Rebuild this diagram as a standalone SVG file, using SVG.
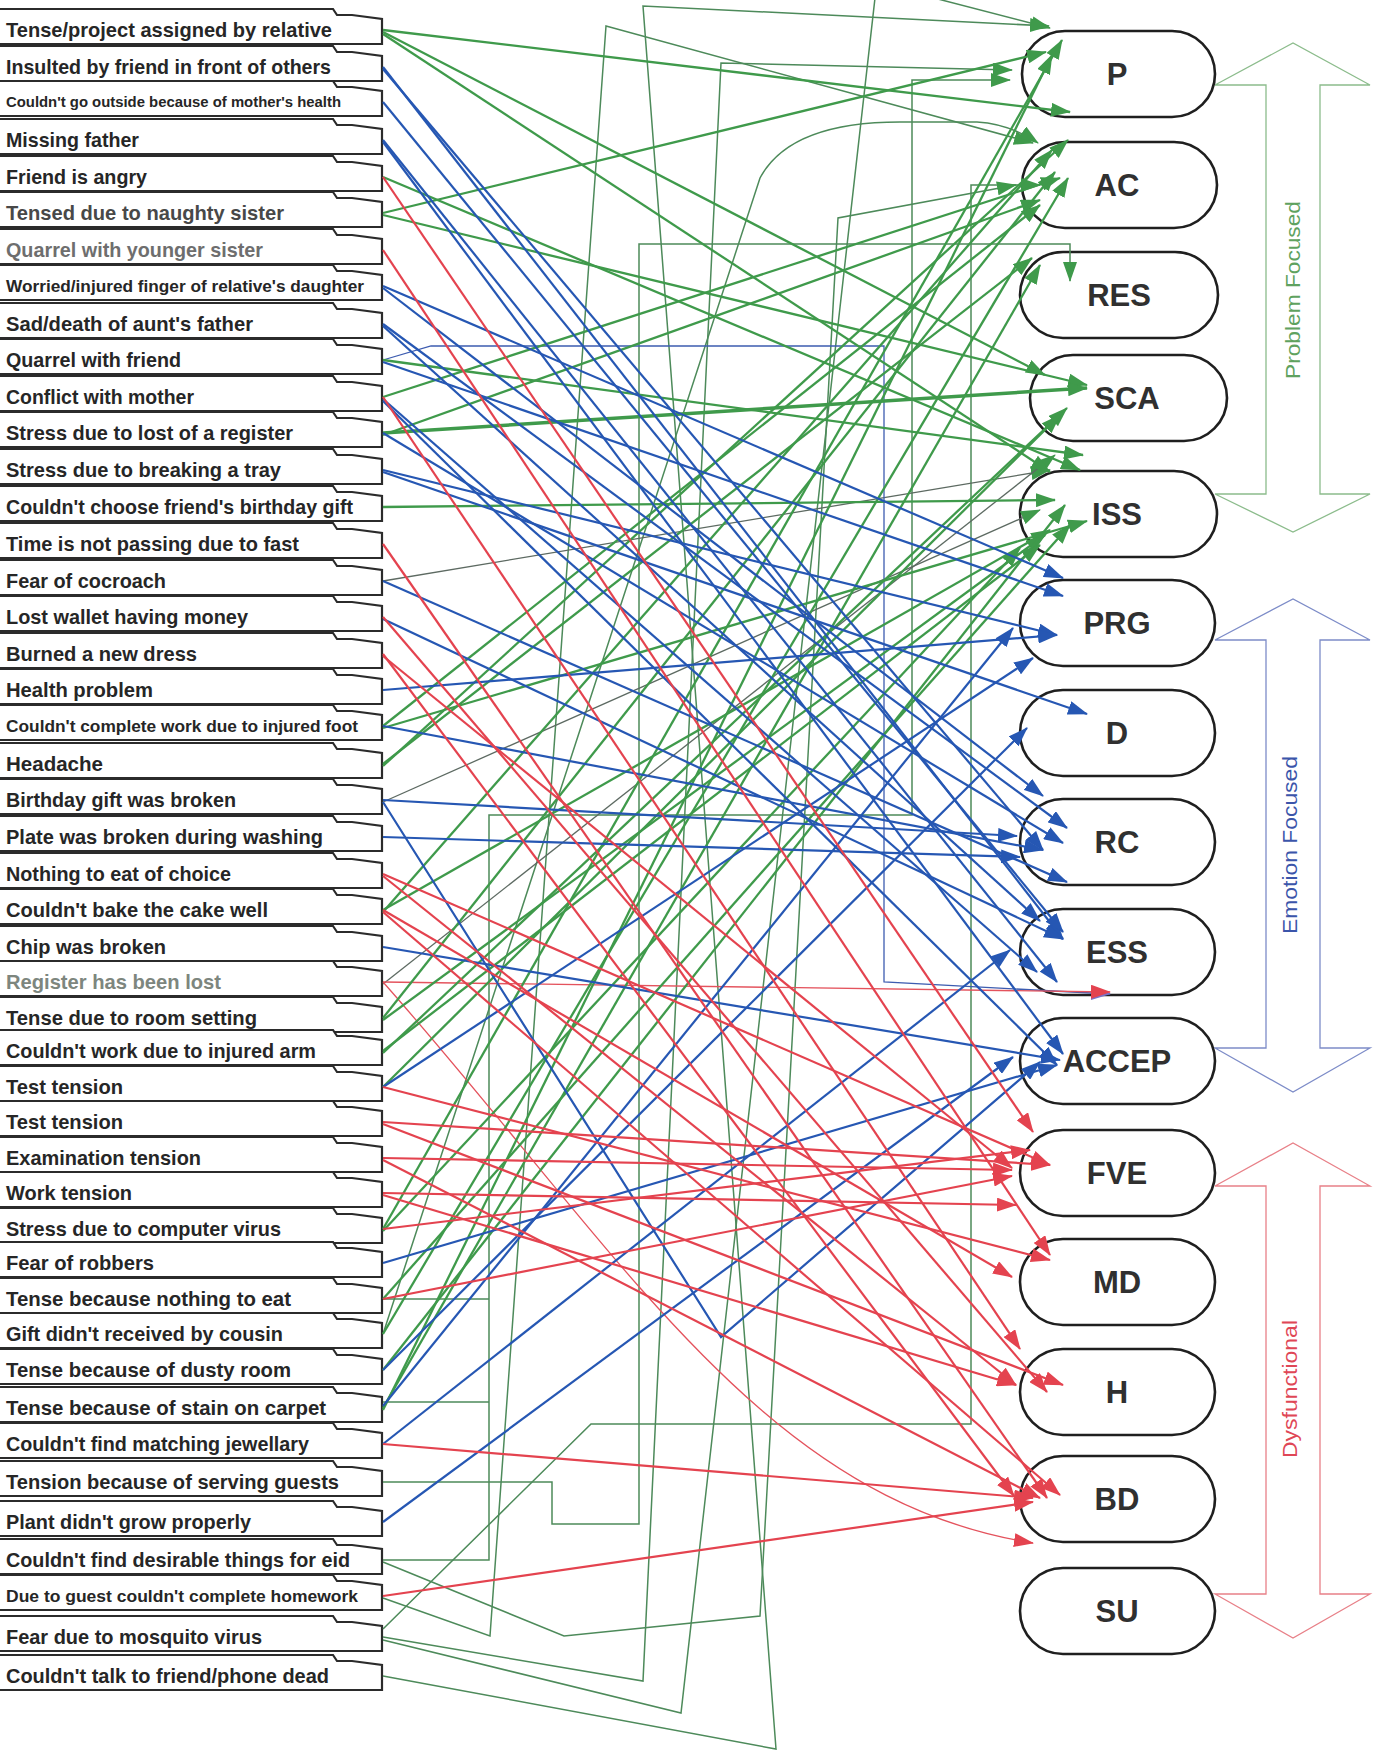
<svg xmlns="http://www.w3.org/2000/svg" width="1383" height="1751" viewBox="0 0 1383 1751">
<defs>
<style>
.box{fill:#fff;stroke:#2b2b2b;stroke-width:2.2}
.lbl{font-family:"Liberation Sans",Arial,sans-serif;font-weight:bold;font-size:21px;fill:#262626}
.sm{font-size:15px}
.md{font-size:17px}
.node rect{fill:#fff;stroke:#1f1f1f;stroke-width:2.6}
.node text{font-family:"Liberation Sans",Arial,sans-serif;font-weight:bold;font-size:31px;fill:#303030;text-anchor:middle}
.band{fill:#fff;stroke-width:1.3}
.bandtxt{font-family:"Liberation Sans",Arial,sans-serif;font-size:20px;text-anchor:middle}
.cg{fill:none;stroke:#3f9a4b;stroke-width:2.3;marker-end:url(#ah-g)}
.ct{fill:none;stroke:#4d8a5a;stroke-width:1.5;marker-end:url(#ah-g)}
.cn{fill:none;stroke:#4d8a5a;stroke-width:1.5}
.cy{fill:none;stroke:#5d6a62;stroke-width:1.3;marker-end:url(#ah-g)}
.cb{fill:none;stroke:#2657b3;stroke-width:2.2;marker-end:url(#ah-b)}
.cbt{fill:none;stroke:#3d5cb0;stroke-width:1.3;marker-end:url(#ah-p)}
.cr{fill:none;stroke:#e4434f;stroke-width:2.2;marker-end:url(#ah-r)}
.crt{fill:none;stroke:#e4535d;stroke-width:1.3;marker-end:url(#ah-r)}
</style>
<marker id="ah-g" viewBox="0 0 20 14" refX="19" refY="7" markerWidth="20" markerHeight="14" markerUnits="userSpaceOnUse" orient="auto"><path d="M0,0L20,7L0,14Z" fill="#3f9a4b"/></marker>
<marker id="ah-b" viewBox="0 0 20 14" refX="19" refY="7" markerWidth="20" markerHeight="14" markerUnits="userSpaceOnUse" orient="auto"><path d="M0,0L20,7L0,14Z" fill="#2657b3"/></marker>
<marker id="ah-r" viewBox="0 0 20 14" refX="19" refY="7" markerWidth="20" markerHeight="14" markerUnits="userSpaceOnUse" orient="auto"><path d="M0,0L20,7L0,14Z" fill="#e4434f"/></marker>
<marker id="ah-p" viewBox="0 0 20 14" refX="19" refY="7" markerWidth="20" markerHeight="14" markerUnits="userSpaceOnUse" orient="auto"><path d="M0,0L20,7L0,14Z" fill="#7a72c8"/></marker>
</defs>
<rect width="1383" height="1751" fill="#fff"/>

<!-- stressor labels -->
<g id="stressors">
<g id="s1"><path class="box" d="M0,9H333l4,6h15l30,4V44H0"/><text class="lbl" x="6" y="37" textLength="326" lengthAdjust="spacingAndGlyphs">Tense/project assigned by relative</text></g>
<g id="s2"><path class="box" d="M0,46H333l4,6h15l30,4V81H0"/><text class="lbl" x="6" y="74" textLength="325" lengthAdjust="spacingAndGlyphs">Insulted by friend in front of others</text></g>
<g id="s3"><path class="box" d="M0,81H333l4,6h15l30,4V116H0"/><text class="lbl sm" x="6" y="107" textLength="335" lengthAdjust="spacingAndGlyphs">Couldn't go outside because of mother's health</text></g>
<g id="s4"><path class="box" d="M0,119H333l4,6h15l30,4V154H0"/><text class="lbl" x="6" y="147" textLength="133" lengthAdjust="spacingAndGlyphs">Missing father</text></g>
<g id="s5"><path class="box" d="M0,156H333l4,6h15l30,4V191H0"/><text class="lbl" x="6" y="184" textLength="141" lengthAdjust="spacingAndGlyphs">Friend is angry</text></g>
<g id="s6"><path class="box" d="M0,192H333l4,6h15l30,4V227H0"/><text class="lbl" x="6" y="220" textLength="278" lengthAdjust="spacingAndGlyphs" style="fill:#484848">Tensed due to naughty sister</text></g>
<g id="s7"><path class="box" d="M0,229H333l4,6h15l30,4V264H0"/><text class="lbl" x="6" y="257" textLength="257" lengthAdjust="spacingAndGlyphs" style="fill:#6e6e6e">Quarrel with younger sister</text></g>
<g id="s8"><path class="box" d="M0,265H333l4,6h15l30,4V300H0"/><text class="lbl md" x="6" y="292" textLength="358" lengthAdjust="spacingAndGlyphs">Worried/injured finger of relative's daughter</text></g>
<g id="s9"><path class="box" d="M0,303H333l4,6h15l30,4V338H0"/><text class="lbl" x="6" y="331" textLength="247" lengthAdjust="spacingAndGlyphs">Sad/death of aunt's father</text></g>
<g id="s10"><path class="box" d="M0,339H333l4,6h15l30,4V374H0"/><text class="lbl" x="6" y="367" textLength="175" lengthAdjust="spacingAndGlyphs">Quarrel with friend</text></g>
<g id="s11"><path class="box" d="M0,376H333l4,6h15l30,4V411H0"/><text class="lbl" x="6" y="404" textLength="188" lengthAdjust="spacingAndGlyphs">Conflict with mother</text></g>
<g id="s12"><path class="box" d="M0,412H333l4,6h15l30,4V447H0"/><text class="lbl" x="6" y="440" textLength="287" lengthAdjust="spacingAndGlyphs">Stress due to lost of a register</text></g>
<g id="s13"><path class="box" d="M0,449H333l4,6h15l30,4V484H0"/><text class="lbl" x="6" y="477" textLength="275" lengthAdjust="spacingAndGlyphs">Stress due to breaking a tray</text></g>
<g id="s14"><path class="box" d="M0,486H333l4,6h15l30,4V521H0"/><text class="lbl" x="6" y="514" textLength="347" lengthAdjust="spacingAndGlyphs">Couldn't choose friend's birthday gift</text></g>
<g id="s15"><path class="box" d="M0,523H333l4,6h15l30,4V558H0"/><text class="lbl" x="6" y="551" textLength="293" lengthAdjust="spacingAndGlyphs">Time is not passing due to fast</text></g>
<g id="s16"><path class="box" d="M0,560H333l4,6h15l30,4V595H0"/><text class="lbl" x="6" y="588" textLength="160" lengthAdjust="spacingAndGlyphs">Fear of cocroach</text></g>
<g id="s17"><path class="box" d="M0,596H333l4,6h15l30,4V631H0"/><text class="lbl" x="6" y="624" textLength="242" lengthAdjust="spacingAndGlyphs">Lost wallet having money</text></g>
<g id="s18"><path class="box" d="M0,633H333l4,6h15l30,4V668H0"/><text class="lbl" x="6" y="661" textLength="191" lengthAdjust="spacingAndGlyphs">Burned a new dress</text></g>
<g id="s19"><path class="box" d="M0,669H333l4,6h15l30,4V704H0"/><text class="lbl" x="6" y="697" textLength="147" lengthAdjust="spacingAndGlyphs">Health problem</text></g>
<g id="s20"><path class="box" d="M0,705H333l4,6h15l30,4V740H0"/><text class="lbl md" x="6" y="732" textLength="352" lengthAdjust="spacingAndGlyphs">Couldn't complete work due to injured foot</text></g>
<g id="s21"><path class="box" d="M0,743H333l4,6h15l30,4V778H0"/><text class="lbl" x="6" y="771" textLength="97" lengthAdjust="spacingAndGlyphs">Headache</text></g>
<g id="s22"><path class="box" d="M0,779H333l4,6h15l30,4V814H0"/><text class="lbl" x="6" y="807" textLength="230" lengthAdjust="spacingAndGlyphs">Birthday gift was broken</text></g>
<g id="s23"><path class="box" d="M0,816H333l4,6h15l30,4V851H0"/><text class="lbl" x="6" y="844" textLength="317" lengthAdjust="spacingAndGlyphs">Plate was broken during washing</text></g>
<g id="s24"><path class="box" d="M0,853H333l4,6h15l30,4V888H0"/><text class="lbl" x="6" y="881" textLength="225" lengthAdjust="spacingAndGlyphs">Nothing to eat of choice</text></g>
<g id="s25"><path class="box" d="M0,889H333l4,6h15l30,4V924H0"/><text class="lbl" x="6" y="917" textLength="262" lengthAdjust="spacingAndGlyphs">Couldn't bake the cake well</text></g>
<g id="s26"><path class="box" d="M0,926H333l4,6h15l30,4V961H0"/><text class="lbl" x="6" y="954" textLength="160" lengthAdjust="spacingAndGlyphs">Chip was broken</text></g>
<g id="s27"><path class="box" d="M0,961H333l4,6h15l30,4V996H0"/><text class="lbl" x="6" y="989" textLength="215" lengthAdjust="spacingAndGlyphs" style="fill:#7d867e">Register has been lost</text></g>
<g id="s28"><path class="box" d="M0,997H333l4,6h15l30,4V1032H0"/><text class="lbl" x="6" y="1025" textLength="251" lengthAdjust="spacingAndGlyphs">Tense due to room setting</text></g>
<g id="s29"><path class="box" d="M0,1030H333l4,6h15l30,4V1065H0"/><text class="lbl" x="6" y="1058" textLength="310" lengthAdjust="spacingAndGlyphs">Couldn't work due to injured arm</text></g>
<g id="s30"><path class="box" d="M0,1066H333l4,6h15l30,4V1101H0"/><text class="lbl" x="6" y="1094" textLength="117" lengthAdjust="spacingAndGlyphs">Test tension</text></g>
<g id="s31"><path class="box" d="M0,1101H333l4,6h15l30,4V1136H0"/><text class="lbl" x="6" y="1129" textLength="117" lengthAdjust="spacingAndGlyphs">Test tension</text></g>
<g id="s32"><path class="box" d="M0,1137H333l4,6h15l30,4V1172H0"/><text class="lbl" x="6" y="1165" textLength="195" lengthAdjust="spacingAndGlyphs">Examination tension</text></g>
<g id="s33"><path class="box" d="M0,1172H333l4,6h15l30,4V1207H0"/><text class="lbl" x="6" y="1200" textLength="126" lengthAdjust="spacingAndGlyphs">Work tension</text></g>
<g id="s34"><path class="box" d="M0,1208H333l4,6h15l30,4V1243H0"/><text class="lbl" x="6" y="1236" textLength="275" lengthAdjust="spacingAndGlyphs">Stress due to computer virus</text></g>
<g id="s35"><path class="box" d="M0,1242H333l4,6h15l30,4V1277H0"/><text class="lbl" x="6" y="1270" textLength="148" lengthAdjust="spacingAndGlyphs">Fear of robbers</text></g>
<g id="s36"><path class="box" d="M0,1278H333l4,6h15l30,4V1313H0"/><text class="lbl" x="6" y="1306" textLength="285" lengthAdjust="spacingAndGlyphs">Tense because nothing to eat</text></g>
<g id="s37"><path class="box" d="M0,1313H333l4,6h15l30,4V1348H0"/><text class="lbl" x="6" y="1341" textLength="277" lengthAdjust="spacingAndGlyphs">Gift didn't received by cousin</text></g>
<g id="s38"><path class="box" d="M0,1349H333l4,6h15l30,4V1384H0"/><text class="lbl" x="6" y="1377" textLength="285" lengthAdjust="spacingAndGlyphs">Tense because of dusty room</text></g>
<g id="s39"><path class="box" d="M0,1387H333l4,6h15l30,4V1422H0"/><text class="lbl" x="6" y="1415" textLength="320" lengthAdjust="spacingAndGlyphs">Tense because of stain on carpet</text></g>
<g id="s40"><path class="box" d="M0,1423H333l4,6h15l30,4V1458H0"/><text class="lbl" x="6" y="1451" textLength="303" lengthAdjust="spacingAndGlyphs">Couldn't find matching jewellary</text></g>
<g id="s41"><path class="box" d="M0,1461H333l4,6h15l30,4V1496H0"/><text class="lbl" x="6" y="1489" textLength="333" lengthAdjust="spacingAndGlyphs">Tension because of serving guests</text></g>
<g id="s42"><path class="box" d="M0,1501H333l4,6h15l30,4V1536H0"/><text class="lbl" x="6" y="1529" textLength="245" lengthAdjust="spacingAndGlyphs">Plant didn't grow properly</text></g>
<g id="s43"><path class="box" d="M0,1539H333l4,6h15l30,4V1574H0"/><text class="lbl" x="6" y="1567" textLength="344" lengthAdjust="spacingAndGlyphs">Couldn't find desirable things for eid</text></g>
<g id="s44"><path class="box" d="M0,1575H333l4,6h15l30,4V1610H0"/><text class="lbl md" x="6" y="1602" textLength="352" lengthAdjust="spacingAndGlyphs">Due to guest couldn't complete homework</text></g>
<g id="s45"><path class="box" d="M0,1616H333l4,6h15l30,4V1651H0"/><text class="lbl" x="6" y="1644" textLength="256" lengthAdjust="spacingAndGlyphs">Fear due to mosquito virus</text></g>
<g id="s46"><path class="box" d="M0,1655H333l4,6h15l30,4V1690H0"/><text class="lbl" x="6" y="1683" textLength="323" lengthAdjust="spacingAndGlyphs">Couldn't talk to friend/phone dead</text></g>
</g>

<!-- category bands -->
<g id="band-problem">
<polygon class="band" stroke="#8cbc8c" points="1215,85 1293,43 1370,85 1320,85 1320,494 1370,494 1293,532 1215,494 1266,494 1266,85"/>
<text class="bandtxt" fill="#5fa25f" x="1293" y="290" dy="7" transform="rotate(-90 1293 290)" textLength="178" lengthAdjust="spacingAndGlyphs">Problem Focused</text>
</g>
<g id="band-emotion">
<polygon class="band" stroke="#7d8cc8" points="1215,640 1293,599 1370,640 1320,640 1320,1048 1370,1048 1293,1092 1215,1048 1266,1048 1266,640"/>
<text class="bandtxt" fill="#3b55aa" x="1290" y="845" dy="7" transform="rotate(-90 1290 845)" textLength="178" lengthAdjust="spacingAndGlyphs">Emotion Focused</text>
</g>
<g id="band-dysfunctional">
<polygon class="band" stroke="#e88088" points="1215,1186 1293,1143 1370,1186 1320,1186 1320,1594 1370,1594 1293,1638 1215,1594 1266,1594 1266,1186"/>
<text class="bandtxt" fill="#df4756" x="1290" y="1389" dy="7" transform="rotate(-90 1290 1389)" textLength="138" lengthAdjust="spacingAndGlyphs">Dysfunctional</text>
</g>

<!-- coping strategy nodes -->
<g id="node-P" class="node"><rect x="1022" y="31" width="193" height="86" rx="43"/><text x="1117" y="85">P</text></g>
<g id="node-AC" class="node"><rect x="1022" y="142" width="195" height="86" rx="43"/><text x="1117" y="196">AC</text></g>
<g id="node-RES" class="node"><rect x="1020" y="252" width="198" height="86" rx="43"/><text x="1119" y="306">RES</text></g>
<g id="node-SCA" class="node"><rect x="1030" y="355" width="197" height="86" rx="43"/><text x="1127" y="409">SCA</text></g>
<g id="node-ISS" class="node"><rect x="1020" y="471" width="197" height="86" rx="43"/><text x="1117" y="525">ISS</text></g>
<g id="node-PRG" class="node"><rect x="1020" y="580" width="195" height="86" rx="43"/><text x="1117" y="634">PRG</text></g>
<g id="node-D" class="node"><rect x="1020" y="690" width="195" height="86" rx="43"/><text x="1117" y="744">D</text></g>
<g id="node-RC" class="node"><rect x="1020" y="799" width="195" height="86" rx="43"/><text x="1117" y="853">RC</text></g>
<g id="node-ESS" class="node"><rect x="1020" y="909" width="195" height="86" rx="43"/><text x="1117" y="963">ESS</text></g>
<g id="node-ACCEP" class="node"><rect x="1020" y="1018" width="195" height="86" rx="43"/><text x="1117" y="1072">ACCEP</text></g>
<g id="node-FVE" class="node"><rect x="1020" y="1130" width="195" height="86" rx="43"/><text x="1117" y="1184">FVE</text></g>
<g id="node-MD" class="node"><rect x="1020" y="1239" width="195" height="86" rx="43"/><text x="1117" y="1293">MD</text></g>
<g id="node-H" class="node"><rect x="1020" y="1349" width="195" height="86" rx="43"/><text x="1117" y="1403">H</text></g>
<g id="node-BD" class="node"><rect x="1020" y="1456" width="195" height="86" rx="43"/><text x="1117" y="1510">BD</text></g>
<g id="node-SU" class="node"><rect x="1020" y="1568" width="195" height="86" rx="43"/><text x="1117" y="1622">SU</text></g>

<!-- connectors -->
<g id="connectors">
<!-- routed thin links -->
<polyline class="ct" points="383,1560 489,1560 489,815 912,815 912,80 1010,80"/>
<polyline class="ct" points="383,1482 552,1482 552,1524 639,1524 639,244 1070,244 1070,281"/>
<polyline class="ct" points="383,1629 591,1424 971,1424 971,185 1040,185"/>
<polyline class="cn" points="383,1299 489,1299"/>
<polyline class="cn" points="383,1402 489,1402"/>
<polyline class="ct" points="383,1598 490,1636 606,26 1033,143"/>
<polyline class="ct" points="383,1562 564,1636 760,1616 838,218 1016,185"/>
<polyline class="ct" points="383,1637 643,1681 721,63 1012,70"/>
<polyline class="cn" points="383,1640 681,1713 875,-2"/>
<polyline class="ct" points="934,-2 1050,28"/>
<polyline class="ct" points="383,1676 776,1749 643,6 1049,26"/>
<path class="ct" d="M383,1334L760,178Q790,122 900,122L977,122Q1010,124 1038,143"/>
<polyline class="cy" points="383,581 1050,470"/>
<polyline class="cy" points="383,802 1040,510"/>
<polyline class="cy" points="383,984 1055,455"/>
<polyline class="cbt" points="383,360 431,346 884,346 884,982 1110,994"/>
<polyline class="crt" points="383,982 1110,992"/>
<path class="crt" d="M383,982C620,1250 760,1500 1033,1543"/>

<!-- problem focused links -->
<polyline class="cg" points="383,30 1070,112"/>
<polyline class="cg" points="383,32 1045,375"/>
<polyline class="cg" points="383,34 1050,472"/>
<polyline class="cg" points="383,177 1080,470"/>
<polyline class="cg" points="383,213 1046,52"/>
<polyline class="cg" points="383,215 1087,385"/>
<polyline class="cg" points="383,397 1060,178"/>
<polyline class="cg" points="383,433 1087,388" style="stroke-width:3.5"/>
<polyline class="cg" points="383,435 1040,200"/>
<polyline class="cg" points="383,507 1055,500"/>
<polyline class="cg" points="383,726 1040,205"/>
<polyline class="cg" points="383,764 1032,258"/>
<polyline class="cg" points="383,766 1068,140"/>
<polyline class="cg" points="383,910 1050,530"/>
<polyline class="cg" points="383,1018 1055,172"/>
<polyline class="cg" points="383,1020 1045,535"/>
<polyline class="cg" points="383,1051 1040,545"/>
<polyline class="cg" points="383,1053 1067,408"/>
<polyline class="cg" points="383,1087 1060,415"/>
<polyline class="cg" points="383,1229 1062,40"/>
<polyline class="cg" points="383,1231 1020,548"/>
<polyline class="cg" points="383,1299 1070,525"/>
<polyline class="cg" points="383,1334 1068,178"/>
<polyline class="cg" points="383,1370 1065,505"/>
<polyline class="cg" points="383,1408 1040,265"/>
<polyline class="cg" points="383,1410 1052,55"/>
<polyline class="cg" points="383,360 1083,455"/>
<polyline class="cg" points="383,728 1087,521"/>
<polyline class="cg" points="383,912 1052,150"/>

<!-- emotion focused links -->
<polyline class="cb" points="383,67 1063,939"/>
<polyline class="cb" points="383,69 1043,850"/>
<polyline class="cb" points="383,102 1063,932"/>
<polyline class="cb" points="383,140 1057,982"/>
<polyline class="cb" points="383,142 1063,1054"/>
<polyline class="cb" points="383,286 1063,578"/>
<polyline class="cb" points="383,288 1043,796"/>
<polyline class="cb" points="383,324 1067,828"/>
<polyline class="cb" points="383,326 1040,921"/>
<polyline class="cb" points="383,362 1063,596"/>
<polyline class="cb" points="383,399 1037,972"/>
<polyline class="cb" points="383,401 1057,1065"/>
<polyline class="cb" points="383,433 1063,843"/>
<polyline class="cb" points="383,470 1057,635"/>
<polyline class="cb" points="383,472 1087,714"/>
<polyline class="cb" points="383,581 1067,882"/>
<polyline class="cb" points="383,619 1063,939"/>
<polyline class="cb" points="383,690 1057,635"/>
<polyline class="cb" points="383,726 1043,850"/>
<polyline class="cb" points="383,800 1017,836"/>
<polyline class="cb" points="383,837 1020,857"/>
<polyline class="cb" points="383,947 1060,1060"/>
<polyline class="cb" points="383,1087 1033,658"/>
<polyline class="cb" points="383,1263 1057,1065"/>
<polyline class="cb" points="383,1370 1027,728"/>
<polyline class="cb" points="383,1406 1013,628"/>
<polyline class="cb" points="383,1444 1010,950"/>
<polyline class="cb" points="383,1522 1013,1057"/>
<polyline class="cb" points="383,802 721,1337 1040,1062"/>

<!-- dysfunctional links -->
<polyline class="cr" points="383,177 1033,1132"/>
<polyline class="cr" points="383,250 1050,1255"/>
<polyline class="cr" points="383,397 1020,1349"/>
<polyline class="cr" points="383,544 1047,1498"/>
<polyline class="cr" points="383,617 1047,1392"/>
<polyline class="cr" points="383,654 1014,1496"/>
<polyline class="cr" points="383,656 1012,1168"/>
<polyline class="cr" points="383,874 1050,1165"/>
<polyline class="cr" points="383,876 1016,1385"/>
<polyline class="cr" points="383,910 1012,1277"/>
<polyline class="cr" points="383,912 1060,1495"/>
<polyline class="cr" points="383,1087 1050,1260"/>
<polyline class="cr" points="383,1122 1050,1165"/>
<polyline class="cr" points="383,1124 1063,1385"/>
<polyline class="cr" points="383,1158 1012,1170"/>
<polyline class="cr" points="383,1160 1040,1498"/>
<polyline class="cr" points="383,1193 1016,1205"/>
<polyline class="cr" points="383,1195 1016,1385"/>
<polyline class="cr" points="383,1229 1030,1150"/>
<polyline class="cr" points="383,1299 1012,1176"/>
<polyline class="cr" points="383,1444 1033,1498"/>
<polyline class="cr" points="383,1596 1033,1502"/>
</g>
</svg>
